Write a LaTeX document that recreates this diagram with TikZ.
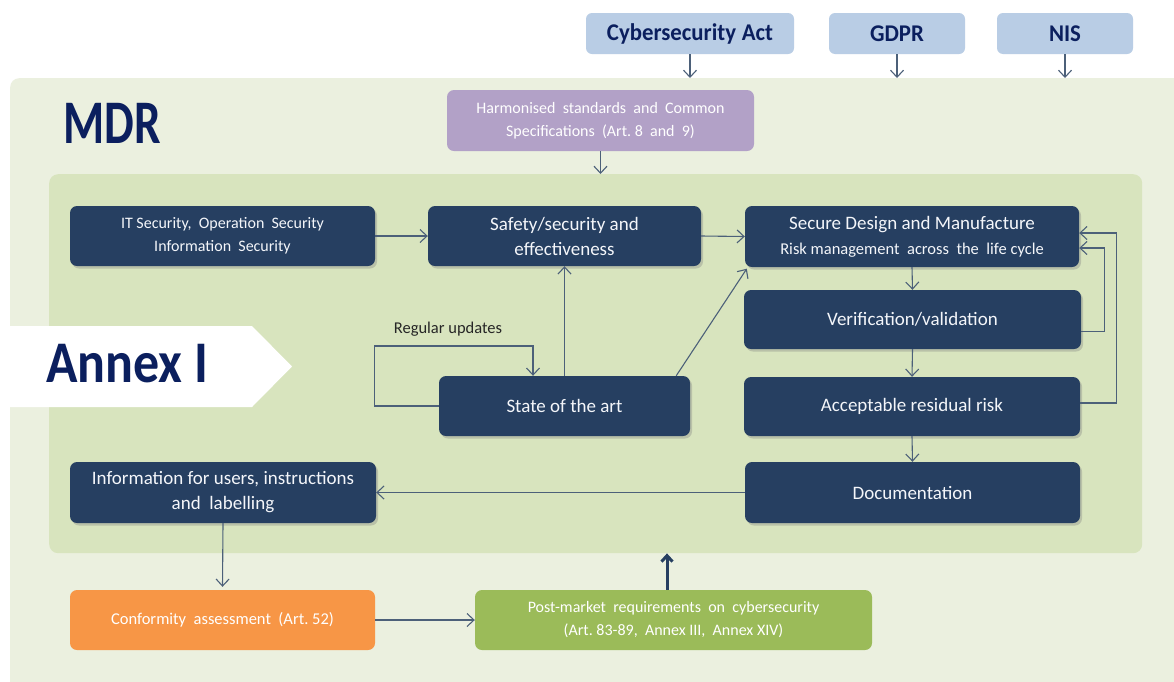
\documentclass[tikz,border=0pt]{standalone}
\usepackage{fontspec}
\setmainfont{Carlito}
\usetikzlibrary{arrows.meta,shadows}
\definecolor{navy}{HTML}{263F61}
\definecolor{titlenavy}{HTML}{0B1F5E}
\definecolor{topblue}{HTML}{B9CDE5}
\definecolor{outerbg}{HTML}{EBF0DF}
\definecolor{innerbg}{HTML}{D8E4BE}
\definecolor{harmc}{HTML}{B2A1C7}
\definecolor{confc}{HTML}{F79646}
\definecolor{postc}{HTML}{9BBB59}
\definecolor{arrowc}{HTML}{4C6079}
\definecolor{boxtext}{HTML}{F4F6FA}
\begin{document}
\begin{tikzpicture}[x=1pt,y=-1pt,
  region/.style={rounded corners=9pt, inner sep=0pt, draw=none},
  topbox/.style={rounded corners=6pt, fill=topblue, text=titlenavy, inner sep=0pt,
    minimum height=41pt, font=\bfseries\fontsize{24}{28}\selectfont},
  darkbox/.style={rounded corners=7pt, fill=navy, text=boxtext, align=center, inner sep=0pt,
    drop shadow={opacity=0.35, shadow xshift=2pt, shadow yshift=-2.5pt},
    font=\fontsize{19}{25}\selectfont},
  lightbox/.style={rounded corners=7pt, text=white, align=center, inner sep=0pt,
    font=\fontsize{16}{23}\selectfont},
  arr/.style={draw=arrowc, line width=1.1pt, -{Straight Barb[length=7pt,width=13pt]}},
  bigarr/.style={draw=navy, line width=3pt, -{Straight Barb[length=6pt,width=11pt]}}
]
\useasboundingbox (0,0) rectangle (1174,681);
\fill[white] (0,0) rectangle (1174,681);

% regions
\node[region, fill=outerbg, anchor=north west, minimum width=1190pt, minimum height=620pt] (mdr) at (10,78) {};
\node[region, fill=innerbg, anchor=north west, minimum width=1093pt, minimum height=379pt] (annex) at (49,174) {};

% Annex I banner
\fill[white] (10,326) -- (252,326) -- (292,366.5) -- (252,407) -- (10,407) -- cycle;
\node[anchor=west, inner sep=0pt, text=titlenavy, font=\bfseries\fontsize{59}{62}\selectfont] (annexlabel) at (46,364) {\scalebox{0.88}[1]{Annex I}};
\node[anchor=west, inner sep=0pt, text=titlenavy, font=\bfseries\fontsize{62}{66}\selectfont] (mdrlabel) at (63,123) {\scalebox{0.76}[1]{MDR}};

% top boxes
\node[topbox, minimum width=208pt] (cyber) at (690,33.5) {\scalebox{0.95}[1]{Cybersecurity\hspace{6pt}Act}};
\node[topbox, minimum width=136pt] (gdpr) at (897,33.5) {\scalebox{0.95}[1]{GDPR}};
\node[topbox, minimum width=136pt] (nis) at (1065,33.5) {\scalebox{0.95}[1]{NIS}};

\node[lightbox, fill=harmc, minimum width=307pt, minimum height=61pt] (harm) at (600.5,120.5)
  {Harmonised\ \ standards\ \ and\ \ Common\\Specifications\ \ (Art.\ 8\ \ and\ \ 9)};

% dark boxes
\node[darkbox, minimum width=305pt, minimum height=60pt, font=\fontsize{16}{23}\selectfont] (itsec) at (222.5,236)
  {IT\ Security,\ \ Operation\ \ Security\\Information\ \ Security};
\node[darkbox, minimum width=273pt, minimum height=60pt] (safety) at (564.5,236)
  {Safety/security and\\effectiveness};
\node[darkbox, minimum width=334pt, minimum height=61pt] (secure) at (912,236.5)
  {Secure Design and Manufacture\\{\fontsize{16.5}{23}\selectfont Risk management\ \ across\ \ the\ \ life cycle}};
\node[darkbox, minimum width=337pt, minimum height=59pt] (verif) at (912.5,319.5) {Verification/validation};
\node[darkbox, minimum width=336pt, minimum height=59pt] (accept) at (912,406.5) {Acceptable residual risk};
\node[darkbox, minimum width=335pt, minimum height=61pt] (doc) at (912.5,492.5) {Documentation};
\node[darkbox, minimum width=306pt, minimum height=61pt] (info) at (223,492.5)
  {Information for users, instructions\\and\ \ labelling};
\node[darkbox, minimum width=251pt, minimum height=60pt] (state) at (564.5,406) {State of the art};

% bottom boxes
\node[lightbox, fill=confc, minimum width=305pt, minimum height=60pt, font=\fontsize{16.5}{23}\selectfont] (conf) at (222.5,620)
  {Conformity\ \ assessment\ \ (Art.\ 52)};
\node[lightbox, fill=postc, minimum width=397pt, minimum height=60pt] (post) at (673.5,620)
  {Post-market\ \ requirements\ \ on\ \ cybersecurity\\(Art.\ 83-89,\ \ Annex\ III,\ \ Annex\ XIV)};

% label
\node[inner sep=0pt, text=black!85, font=\fontsize{16.5}{19}\selectfont] (rulabel) at (448,329) {Regular updates};
\coordinate (ru) at (533,346);

% connectors
\draw[arr] (cyber.south) -- (cyber.south |- mdr.north);
\draw[arr] (gdpr.south) -- (gdpr.south |- mdr.north);
\draw[arr] (nis.south) -- (nis.south |- mdr.north);
\draw[arr] (harm.south) -- (harm.south |- annex.north);

\draw[arr] (itsec.east) -- (safety.west);
\draw[arr] (safety.east) -- (secure.west);
\draw[arr] (state.north) -- (safety.south);
\draw[arr] ([xshift=-14pt]state.north east) -- ([xshift=2pt,yshift=-1.5pt]secure.south west);
\draw[arr] (state.west) -- ++(-64,0) |- (ru) -- (ru |- state.north);

\draw[arr] (secure.south) -- (verif.north);
\draw[arr] (verif.south) -- (accept.north);
\draw[arr] (accept.south) -- (doc.north);
\draw[arr] ([yshift=-12pt]verif.east) -- ++(23,0) |- ([yshift=-11.5pt]secure.east);
\draw[arr] ([yshift=3.5pt]accept.east) -- ++(36,0) |- ([yshift=3.5pt]secure.east);

\draw[arr] (doc.west) -- (info.east);
\draw[arr] (info.south) -- ([yshift=3pt]conf.north);
\draw[arr] (conf.east) -- (post.west);
\draw[bigarr] ([xshift=-6.5pt]post.north) -- ([xshift=-6.5pt]post.north |- annex.south);
\end{tikzpicture}
\end{document}
